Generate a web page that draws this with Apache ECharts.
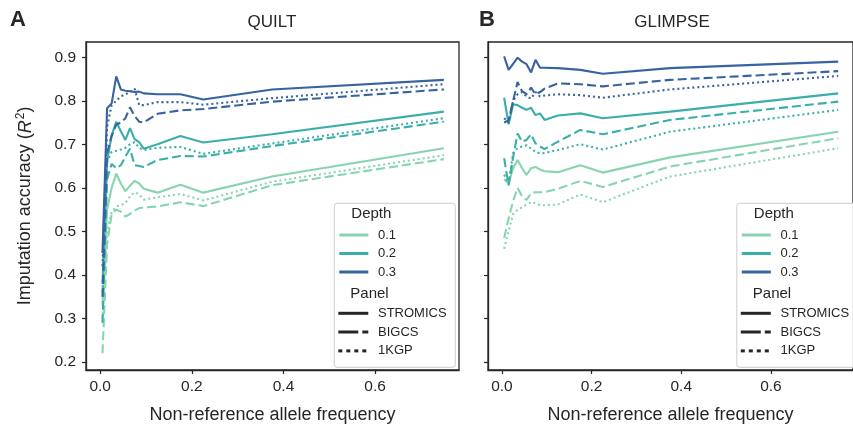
<!DOCTYPE html>
<html>
<head>
<meta charset="utf-8">
<script src="https://cdn.jsdelivr.net/npm/echarts@6.0.0/dist/echarts.min.js"></script>
<style>
  html, body { margin: 0; padding: 0; background: #fff; }
  #chart { width: 853px; height: 430px; }
</style>
</head>
<body>
<div id="chart"></div>
<script>
// allele frequency bin midpoints
const freq = [0.005, 0.015, 0.025, 0.035, 0.045, 0.055, 0.065, 0.075, 0.085, 0.095, 0.125, 0.175, 0.225, 0.375, 0.75];
const depths = ['0.1', '0.2', '0.3'];
const panels = ['STROMICS', 'BIGCS', '1KGP'];
const yTicks = [0.2, 0.3, 0.4, 0.5, 0.6, 0.7, 0.8, 0.9];
const xTicks = [0.0, 0.2, 0.4, 0.6];

// QUILT
const quiltStromics01 = [0.33, 0.55, 0.60, 0.633, 0.61, 0.592, 0.605, 0.616, 0.61, 0.598, 0.589, 0.607, 0.589, 0.626, 0.691];
const quiltBigcs01 = [0.22, 0.47, 0.54, 0.55, 0.545, 0.534, 0.54, 0.548, 0.553, 0.555, 0.557, 0.567, 0.558, 0.606, 0.666];
const quilt1kgp01 = [0.30, 0.50, 0.545, 0.557, 0.56, 0.565, 0.58, 0.59, 0.585, 0.573, 0.578, 0.586, 0.571, 0.614, 0.675];
const quiltStromics02 = [0.38, 0.66, 0.72, 0.752, 0.73, 0.71, 0.737, 0.712, 0.705, 0.69, 0.70, 0.719, 0.704, 0.723, 0.775];
const quiltBigcs02 = [0.29, 0.62, 0.655, 0.645, 0.652, 0.672, 0.69, 0.652, 0.65, 0.648, 0.664, 0.673, 0.672, 0.696, 0.752];
const quilt1kgp02 = [0.36, 0.66, 0.683, 0.685, 0.688, 0.692, 0.70, 0.705, 0.692, 0.687, 0.692, 0.694, 0.678, 0.702, 0.760];
const quiltStromics03 = [0.45, 0.783, 0.794, 0.856, 0.826, 0.823, 0.822, 0.820, 0.821, 0.817, 0.815, 0.815, 0.803, 0.826, 0.848];
const quiltBigcs03 = [0.35, 0.68, 0.72, 0.745, 0.75, 0.76, 0.785, 0.765, 0.752, 0.75, 0.77, 0.778, 0.781, 0.798, 0.826];
const quilt1kgp03 = [0.42, 0.74, 0.79, 0.80, 0.81, 0.815, 0.82, 0.828, 0.79, 0.79, 0.797, 0.797, 0.791, 0.806, 0.838];

// GLIMPSE
const glimpseStromics01 = [0.62, 0.61, 0.645, 0.664, 0.645, 0.630, 0.645, 0.648, 0.642, 0.638, 0.636, 0.652, 0.635, 0.670, 0.729];
const glimpseBigcs01 = [0.485, 0.53, 0.57, 0.60, 0.58, 0.572, 0.588, 0.59, 0.59, 0.59, 0.598, 0.616, 0.602, 0.649, 0.714];
const glimpse1kgp01 = [0.46, 0.50, 0.54, 0.55, 0.555, 0.562, 0.567, 0.565, 0.56, 0.56, 0.562, 0.585, 0.567, 0.626, 0.691];
const glimpseStromics02 = [0.807, 0.746, 0.792, 0.79, 0.784, 0.779, 0.784, 0.767, 0.771, 0.756, 0.766, 0.771, 0.760, 0.775, 0.817];
const glimpseBigcs02 = [0.668, 0.606, 0.67, 0.725, 0.706, 0.71, 0.723, 0.702, 0.695, 0.689, 0.706, 0.733, 0.723, 0.756, 0.798];
const glimpse1kgp02 = [0.63, 0.61, 0.68, 0.691, 0.695, 0.698, 0.69, 0.683, 0.679, 0.68, 0.687, 0.700, 0.688, 0.729, 0.779];
const glimpseStromics03 = [0.902, 0.871, 0.885, 0.899, 0.89, 0.884, 0.865, 0.894, 0.876, 0.876, 0.875, 0.871, 0.862, 0.875, 0.890];
const glimpseBigcs03 = [0.75, 0.755, 0.80, 0.843, 0.822, 0.815, 0.83, 0.815, 0.82, 0.828, 0.84, 0.838, 0.833, 0.848, 0.868];
const glimpse1kgp03 = [0.76, 0.75, 0.80, 0.815, 0.82, 0.81, 0.805, 0.82, 0.81, 0.812, 0.815, 0.813, 0.807, 0.826, 0.857];

const quilt = [
  [quiltStromics01, quiltBigcs01, quilt1kgp01],
  [quiltStromics02, quiltBigcs02, quilt1kgp02],
  [quiltStromics03, quiltBigcs03, quilt1kgp03]
];
const glimpse = [
  [glimpseStromics01, glimpseBigcs01, glimpse1kgp01],
  [glimpseStromics02, glimpseBigcs02, glimpse1kgp02],
  [glimpseStromics03, glimpseBigcs03, glimpse1kgp03]
];

const colors = ['#86d5ad', '#3aaea8', '#3763a0'];
const dashes = ['solid', [9, 4], [2, 3]];
const legendDashes = ['solid', [20, 4], [4, 4]];
const ink = '#262626';
const font = 'Liberation Sans, Arial, sans-serif';

let chart = echarts.init(document.getElementById('chart'));

function makeSeries(table, idx) {
  let out = [];
  table.forEach((rows, d) => {
    rows.forEach((vals, p) => {
      out.push({
        name: depths[d] + ' ' + panels[p],
        type: 'line',
        xAxisIndex: idx,
        yAxisIndex: idx,
        showSymbol: false,
        symbol: 'none',
        lineStyle: { color: colors[d], width: 2.1, type: dashes[p], cap: 'butt' },
        data: freq.map((f, i) => [f, vals[i]])
      });
    });
  });
  return out;
}

function makeLegend(x0, y0) {
  let kids = [{
    type: 'rect',
    shape: { x: 0, y: 0, width: 121, height: 164, r: 3 },
    style: { fill: 'rgba(255,255,255,0.85)', stroke: '#cccccc', lineWidth: 1 }
  }];
  kids.push({ type: 'text', x: 17, y: 11, style: { text: 'Depth', fill: ink, font: '15px ' + font, textVerticalAlign: 'middle' } });
  kids.push({ type: 'text', x: 16, y: 91, style: { text: 'Panel', fill: ink, font: '15px ' + font, textVerticalAlign: 'middle' } });
  depths.forEach((d, i) => {
    let y = 31.7 + i * 18.5;
    kids.push({ type: 'line', shape: { x1: 5, y1: y, x2: 34, y2: y }, style: { stroke: colors[i], lineWidth: 3 } });
    kids.push({ type: 'text', x: 43.7, y: y, style: { text: d, fill: ink, font: '13px ' + font, textVerticalAlign: 'middle' } });
  });
  panels.forEach((p, i) => {
    let y = 110 + i * 18.8;
    kids.push({ type: 'line', shape: { x1: 4, y1: y, x2: 34, y2: y }, style: { stroke: ink, lineWidth: 3, lineDash: legendDashes[i] === 'solid' ? null : legendDashes[i] } });
    kids.push({ type: 'text', x: 43.7, y: y, style: { text: p, fill: ink, font: '13px ' + font, textVerticalAlign: 'middle' } });
  });
  return { type: 'group', x: x0, y: y0, children: kids };
}

function xAxisOf(idx) {
  return {
    type: 'value', gridIndex: idx, min: -0.031, max: 0.783,
    name: 'Non-reference allele frequency', nameLocation: 'middle', nameGap: 36,
    nameTextStyle: { color: ink, fontSize: 18, fontFamily: font },
    splitLine: { show: false },
    axisLine: { onZero: false, lineStyle: { color: ink, width: 1.3 } },
    axisTick: { customValues: xTicks, length: 4, lineStyle: { color: ink, width: 1.2 } },
    axisLabel: { customValues: xTicks, color: ink, fontSize: 15.5, fontFamily: font, margin: 9, formatter: v => v.toFixed(1) }
  };
}

function yAxisOf(idx) {
  let ax = {
    type: 'value', gridIndex: idx, min: 0.1816, max: 0.935,
    splitLine: { show: false },
    axisLine: { onZero: false, lineStyle: { color: ink, width: 1.3 } },
    axisTick: { customValues: yTicks, length: 4, lineStyle: { color: ink, width: 1.2 } },
    axisLabel: { show: idx === 0, customValues: yTicks, color: ink, fontSize: 15.5, fontFamily: font, margin: 10, formatter: v => v.toFixed(1) }
  };
  if (idx === 0) {
    ax.name = '{a|Imputation accuracy (}{i|R}{s|2}{a|)}';
    ax.nameLocation = 'middle';
    ax.nameGap = 50;
    ax.nameRotate = 90;
    ax.nameTextStyle = {
      rich: {
        a: { fontSize: 18, color: ink, fontFamily: font },
        i: { fontSize: 18, color: ink, fontFamily: font, fontStyle: 'italic' },
        s: { fontSize: 12, color: ink, fontFamily: font, verticalAlign: 'top', padding: [0, 0, 9, 1] }
      }
    };
  }
  return ax;
}

let option = {
  animation: false,
  backgroundColor: '#ffffff',
  grid: [
    { left: 86, top: 42, width: 373, height: 328, show: true, borderColor: ink, borderWidth: 1.3 },
    { left: 488, top: 42, width: 373, height: 328, show: true, borderColor: ink, borderWidth: 1.3 }
  ],
  xAxis: [xAxisOf(0), xAxisOf(1)],
  yAxis: [yAxisOf(0), yAxisOf(1)],
  series: makeSeries(quilt, 0).concat(makeSeries(glimpse, 1)),
  graphic: [
    { type: 'text', x: 10, y: 20, style: { text: 'A', fill: ink, font: 'bold 22px ' + font, textVerticalAlign: 'middle' } },
    { type: 'text', x: 479, y: 20, style: { text: 'B', fill: ink, font: 'bold 22px ' + font, textVerticalAlign: 'middle' } },
    { type: 'text', x: 272, y: 22, style: { text: 'QUILT', fill: ink, font: '17px ' + font, textAlign: 'center', textVerticalAlign: 'middle' } },
    { type: 'text', x: 672, y: 22, style: { text: 'GLIMPSE', fill: ink, font: '17px ' + font, textAlign: 'center', textVerticalAlign: 'middle' } },
    makeLegend(334.3, 203.3),
    makeLegend(736.8, 203.3)
  ]
};
chart.setOption(option);
</script>
</body>
</html>
